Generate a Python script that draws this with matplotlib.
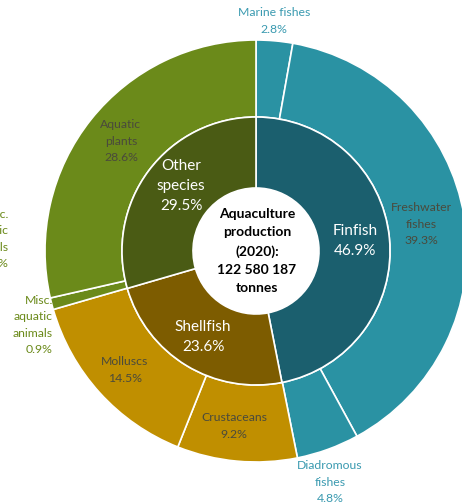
import matplotlib
matplotlib.use("Agg")
import matplotlib.pyplot as plt

plt.rcParams['font.family'] = ['Lato', 'DejaVu Sans']

# Species groups (inner ring) and their sub-groups (outer ring), share of total in %
groups = ["Finfish", "Shellfish", "Other species"]
group_share = [46.9, 23.6, 29.5]

subgroups = ["Marine fishes", "Freshwater\nfishes", "Diadromous\nfishes", "Crustaceans",
             "Molluscs", "Misc.\naquatic\nanimals", "Aquatic\nplants"]
sub_share = [2.8, 39.3, 4.8, 9.2, 14.5, 0.9, 28.6]

total_label = "Aquaculture\nproduction\n(2020):\n122 580 187\ntonnes"

group_colors = ["#1b5f6e", "#7d5c00", "#4a5b14"]
sub_colors = ["#2a92a3", "#2a92a3", "#2a92a3", "#c08f00", "#c08f00", "#6b8a1a", "#6b8a1a"]

W, H = 462, 503
fig = plt.figure(figsize=(W / 100, H / 100), dpi=100)
ax = fig.add_axes([0, 0, 1, 1])

cx, cy = 256, H - 251
r_out, r_mid, r_in = 211, 134, 63

ax.pie(sub_share, radius=r_out, center=(cx, cy), startangle=90, counterclock=False,
       colors=sub_colors, normalize=True,
       wedgeprops=dict(width=r_out - r_mid, edgecolor="white", linewidth=1.2))
ax.pie(group_share, radius=r_mid, center=(cx, cy), startangle=90, counterclock=False,
       colors=group_colors, normalize=True,
       wedgeprops=dict(width=r_mid - r_in, edgecolor="white", linewidth=1.2))

ax.set_xlim(0, W)
ax.set_ylim(0, H)
ax.set_aspect("auto")
ax.axis("off")


def put(px, py, s, color, size=8.8, ha="center", weight="normal", ls=1.6):
    ax.text(px, H - py, s, ha=ha, va="center", color=color, fontsize=size,
            fontweight=weight, linespacing=ls)


teal_txt = "#3a9ab0"
olive_txt = "#6b8a1a"
dark_txt = "#4a4a3c"

# outer ring labels
put(274, 21, f"{subgroups[0]}\n{sub_share[0]}%", teal_txt)
put(421, 224, f"{subgroups[1]}\n{sub_share[1]}%", dark_txt)
put(330, 482, f"{subgroups[2]}\n{sub_share[2]}%", teal_txt)
put(234, 426, f"{subgroups[3]}\n{sub_share[3]}%", dark_txt)
put(125, 370, f"{subgroups[4]}\n{sub_share[4]}%", dark_txt)
put(53, 325, f"{subgroups[5]}\n{sub_share[5]}%", olive_txt, ha="right")
put(121, 141, f"{subgroups[6]}\n{sub_share[6]}%", dark_txt)

# neighbouring label cut by the left edge
put(9, 239, "Misc.\naquatic\nanimals\n0.1%", olive_txt, ha="right")

# inner ring labels
put(355, 241, f"{groups[0]}\n{group_share[0]}%", "white", size=11, ls=1.5)
put(203, 337, f"{groups[1]}\n{group_share[1]}%", "white", size=11, ls=1.5)
put(181, 186, f"Other\nspecies\n{group_share[2]}%", "white", size=11, ls=1.55)

# centre total
put(cx + 1, 251, total_label, "black", size=10, weight="bold", ls=1.62)

fig.savefig("out.png", dpi=100)
